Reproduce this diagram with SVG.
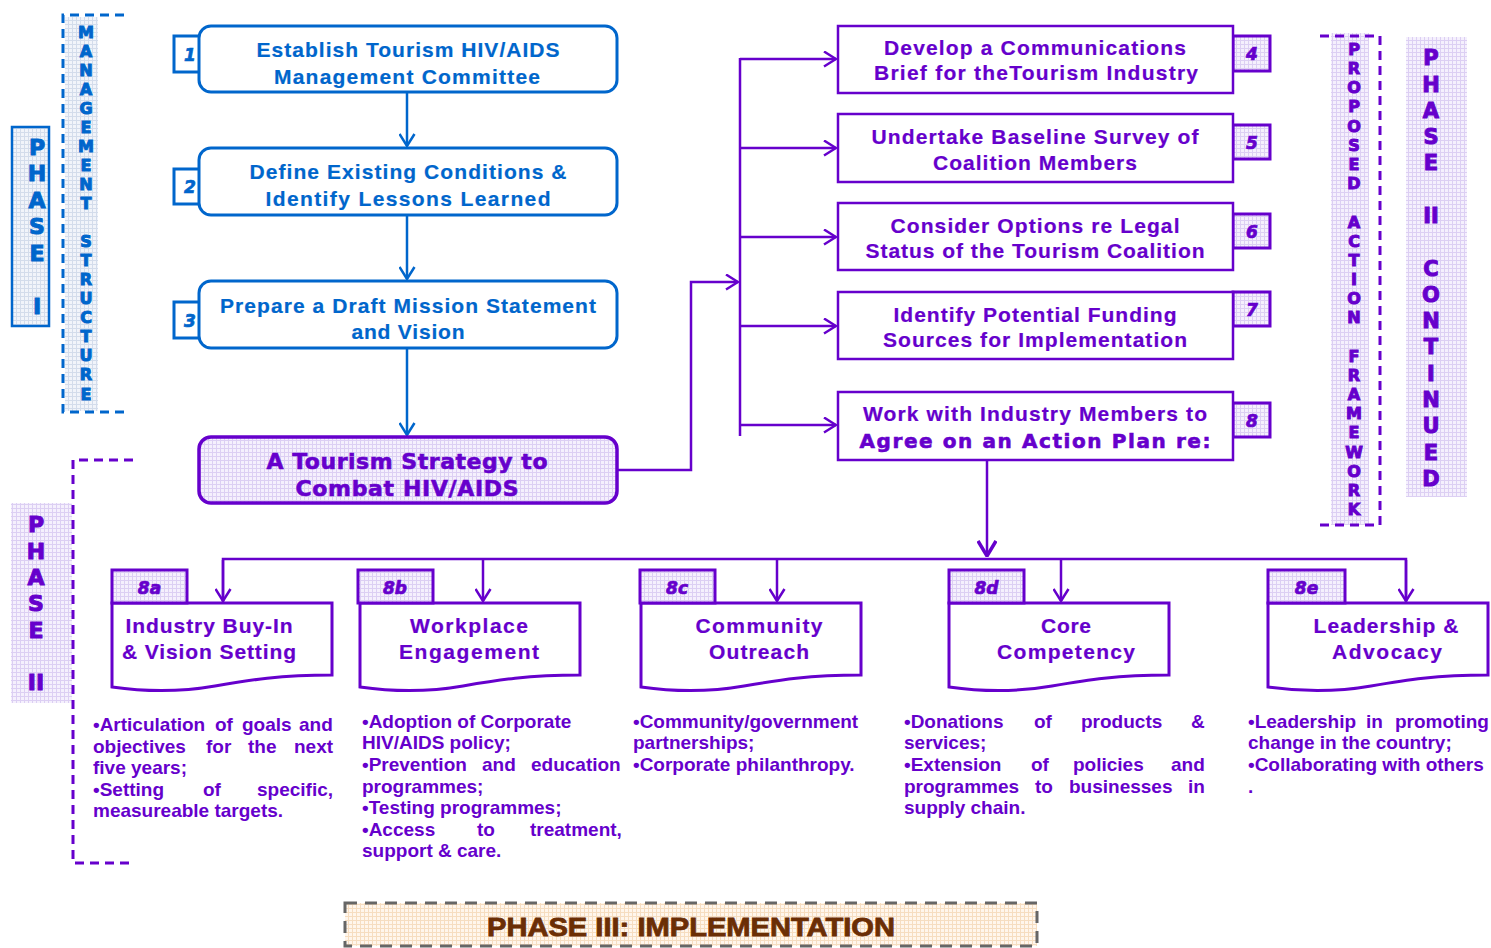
<svg xmlns="http://www.w3.org/2000/svg" xmlns:xlink="http://www.w3.org/1999/xlink" width="1491" height="948" viewBox="0 0 1491 948">
<defs>
<pattern id="pp" width="4" height="4" patternUnits="userSpaceOnUse"><rect width="4" height="4" fill="#F5F0FD"/><path d="M0,0.5H4M0.5,0V4" stroke="#DCCFF3" stroke-width="1"/></pattern>
<pattern id="pbk" width="4" height="4" patternUnits="userSpaceOnUse"><rect width="4" height="4" fill="#F1F4FA"/><path d="M0,0.5H4M0.5,0V4" stroke="#D3DCEB" stroke-width="1"/></pattern>
<pattern id="po" width="4" height="4" patternUnits="userSpaceOnUse"><rect width="4" height="4" fill="#FFF6EC"/><path d="M0,0.5H4M0.5,0V4" stroke="#F6DDC0" stroke-width="1"/></pattern>
<path id="doc" d="M0,0 H220 V72 C168,72 138,77 103,83 C63,90 28,88 0,84 Z"/>
<marker id="ab" viewBox="0 0 14 17" refX="13" refY="8.5" markerWidth="14" markerHeight="17" markerUnits="userSpaceOnUse" orient="auto"><path d="M1,1 L13,8.5 L1,16" fill="none" stroke="#0066CC" stroke-width="2.5"/></marker>
<marker id="ap" viewBox="0 0 14 17" refX="13" refY="8.5" markerWidth="14" markerHeight="17" markerUnits="userSpaceOnUse" orient="auto"><path d="M1,1 L13,8.5 L1,16" fill="none" stroke="#6600CC" stroke-width="2.5"/></marker>
<marker id="apb" viewBox="0 0 17 20" refX="16" refY="10" markerWidth="17" markerHeight="20" markerUnits="userSpaceOnUse" orient="auto"><path d="M1,1 L16,10 L1,19" fill="none" stroke="#6600CC" stroke-width="3.5"/></marker>
</defs>
<style>
.bb{fill:#fff;stroke:#0066CC;stroke-width:3}
.pb{fill:#fff;stroke:#6600CC;stroke-width:2.5}
.dc{fill:#fff;stroke:#6600CC;stroke-width:3}
.tg{fill:url(#pp);stroke:#6600CC;stroke-width:3}
.tgb{fill:#fff;stroke:#0066CC;stroke-width:3}
.t{font-family:"Liberation Sans",Arial,sans-serif;font-weight:bold;font-size:21px;text-anchor:middle}
.b{fill:#0066CC;stroke:#0066CC}
.p{fill:#6600CC;stroke:#6600CC}
.t.b,.t.p{stroke-width:0.2}
.hv{font-family:"DejaVu Sans","Liberation Sans",sans-serif;font-weight:bold;text-anchor:middle;stroke-width:0.6}
.num{font-family:"DejaVu Sans","Liberation Sans",sans-serif;font-weight:bold;font-style:italic;font-size:17px;text-anchor:middle;stroke-width:0.7}
.bl{font-family:"Liberation Sans",Arial,sans-serif;font-weight:bold;font-size:19px;fill:#6600CC}
.ve{font-family:"DejaVu Sans","Liberation Sans",sans-serif;font-weight:bold;text-anchor:middle;stroke-width:1}
.cb{fill:none;stroke:#0066CC;stroke-width:2.5}
.cp{fill:none;stroke:#6600CC;stroke-width:2.5}
</style>
<rect width="1491" height="948" fill="#fff"/>

<g id="phase1">
<rect x="12" y="127" width="37" height="199" fill="url(#pbk)" stroke="#0066CC" stroke-width="2.5"/>
<text class="ve b" font-size="22"><tspan x="37" y="155">P</tspan><tspan x="37" y="181">H</tspan><tspan x="37" y="208">A</tspan><tspan x="37" y="234">S</tspan><tspan x="37" y="261">E</tspan><tspan x="37" y="314">I</tspan></text>
</g>

<g id="mgmt">
<rect x="65" y="17" width="33" height="394" fill="url(#pbk)"/>
<path d="M124,15 H63 V412 H124" fill="none" stroke="#0066CC" stroke-width="3" stroke-dasharray="9 6"/>
<text class="ve b" font-size="16"><tspan x="86" y="38">M</tspan><tspan x="86" y="57">A</tspan><tspan x="86" y="76">N</tspan><tspan x="86" y="95">A</tspan><tspan x="86" y="114">G</tspan><tspan x="86" y="133">E</tspan><tspan x="86" y="152">M</tspan><tspan x="86" y="171">E</tspan><tspan x="86" y="190">N</tspan><tspan x="86" y="209">T</tspan><tspan x="86" y="247">S</tspan><tspan x="86" y="266">T</tspan><tspan x="86" y="285">R</tspan><tspan x="86" y="304">U</tspan><tspan x="86" y="323">C</tspan><tspan x="86" y="342">T</tspan><tspan x="86" y="361">U</tspan><tspan x="86" y="380">R</tspan><tspan x="86" y="400">E</tspan></text>
</g>

<g id="phase2">
<rect x="11" y="503" width="61" height="200" fill="url(#pp)"/>
<path d="M133,460 H73 V863 H133" fill="none" stroke="#6600CC" stroke-width="3" stroke-dasharray="9 6"/>
<text class="ve p" font-size="22"><tspan x="36" y="532">P</tspan><tspan x="36" y="559">H</tspan><tspan x="36" y="585">A</tspan><tspan x="36" y="611">S</tspan><tspan x="36" y="638">E</tspan><tspan x="36" y="690">II</tspan></text>
</g>

<g id="framework">
<rect x="1331" y="33" width="38" height="492" fill="url(#pp)"/>
<path d="M1320,36 H1380 V525 H1320" fill="none" stroke="#6600CC" stroke-width="3" stroke-dasharray="9 6"/>
<text class="ve p" font-size="16"><tspan x="1354" y="55">P</tspan><tspan x="1354" y="74">R</tspan><tspan x="1354" y="93">O</tspan><tspan x="1354" y="112">P</tspan><tspan x="1354" y="132">O</tspan><tspan x="1354" y="151">S</tspan><tspan x="1354" y="170">E</tspan><tspan x="1354" y="189">D</tspan><tspan x="1354" y="228">A</tspan><tspan x="1354" y="247">C</tspan><tspan x="1354" y="266">T</tspan><tspan x="1354" y="285">I</tspan><tspan x="1354" y="304">O</tspan><tspan x="1354" y="323">N</tspan><tspan x="1354" y="362">F</tspan><tspan x="1354" y="381">R</tspan><tspan x="1354" y="400">A</tspan><tspan x="1354" y="419">M</tspan><tspan x="1354" y="438">E</tspan><tspan x="1354" y="458">W</tspan><tspan x="1354" y="477">O</tspan><tspan x="1354" y="496">R</tspan><tspan x="1354" y="515">K</tspan></text>
</g>

<g id="phase2cont">
<rect x="1406" y="37" width="61" height="460" fill="url(#pp)"/>
<text class="ve p" font-size="21"><tspan x="1431" y="65">P</tspan><tspan x="1431" y="92">H</tspan><tspan x="1431" y="118">A</tspan><tspan x="1431" y="144">S</tspan><tspan x="1431" y="170">E</tspan><tspan x="1431" y="223">II</tspan><tspan x="1431" y="276">C</tspan><tspan x="1431" y="302">O</tspan><tspan x="1431" y="328">N</tspan><tspan x="1431" y="354">T</tspan><tspan x="1431" y="381">I</tspan><tspan x="1431" y="407">N</tspan><tspan x="1431" y="433">U</tspan><tspan x="1431" y="460">E</tspan><tspan x="1431" y="486">D</tspan></text>
</g>

<g id="connectors">
<path class="cb" d="M407,93 V146" marker-end="url(#ab)"/>
<path class="cb" d="M407,216 V279" marker-end="url(#ab)"/>
<path class="cb" d="M407,349 V435" marker-end="url(#ab)"/>
<path class="cp" d="M617,470 H691 V282 H738" stroke-width="3.5" marker-end="url(#ap)"/>
<path class="cp" d="M740,58 V436"/>
<path class="cp" d="M740,59 H836" marker-end="url(#ap)"/>
<path class="cp" d="M740,148 H836" marker-end="url(#ap)"/>
<path class="cp" d="M740,237 H836" marker-end="url(#ap)"/>
<path class="cp" d="M740,326 H836" marker-end="url(#ap)"/>
<path class="cp" d="M740,425 H836" marker-end="url(#ap)"/>
<path class="cp" d="M987,461 V556" stroke-width="4" marker-end="url(#apb)"/>
<path class="cp" d="M223,603 V559 H1406 V603" stroke-width="3"/>
<path class="cp" d="M223,560 V601" marker-end="url(#ap)"/>
<path class="cp" d="M483,560 V601" marker-end="url(#ap)"/>
<path class="cp" d="M777,560 V601" marker-end="url(#ap)"/>
<path class="cp" d="M1061,560 V601" marker-end="url(#ap)"/>
<path class="cp" d="M1406,560 V601" marker-end="url(#ap)"/>
</g>

<g id="n1">
<rect class="tgb" x="174" y="36" width="26" height="36"/>
<text class="num b" x="190" y="61">1</text>
<rect class="bb" x="199" y="26" width="418" height="66" rx="12"/>
<text class="t b" x="408" y="57" textLength="303" lengthAdjust="spacing">Establish Tourism HIV/AIDS</text>
<text class="t b" x="407" y="84" textLength="266" lengthAdjust="spacing">Management Committee</text>
</g>
<g id="n2">
<rect class="tgb" x="174" y="169" width="26" height="35"/>
<text class="num b" x="190" y="193">2</text>
<rect class="bb" x="199" y="148" width="418" height="67" rx="12"/>
<text class="t b" x="408" y="179" textLength="317" lengthAdjust="spacing">Define Existing Conditions  &amp;</text>
<text class="t b" x="408" y="206" textLength="285" lengthAdjust="spacing">Identify  Lessons Learned</text>
</g>
<g id="n3">
<rect class="tgb" x="174" y="302" width="26" height="36"/>
<text class="num b" x="190" y="327">3</text>
<rect class="bb" x="199" y="281" width="418" height="67" rx="12"/>
<text class="t b" x="408" y="313" textLength="376" lengthAdjust="spacing">Prepare a Draft Mission Statement</text>
<text class="t b" x="408" y="339" textLength="113" lengthAdjust="spacing">and Vision</text>
</g>
<g id="strategy">
<rect x="199" y="437" width="418" height="66" rx="12" fill="url(#pp)" stroke="#6600CC" stroke-width="3.5"/>
<text class="hv p" font-size="22" x="407" y="469" textLength="281" lengthAdjust="spacing">A Tourism Strategy to</text>
<text class="hv p" font-size="22" x="407" y="496" textLength="223" lengthAdjust="spacing">Combat HIV/AIDS</text>
</g>

<g id="n4">
<rect class="tg" x="1233" y="36" width="37" height="35"/>
<text class="num p" x="1252" y="60">4</text>
<rect class="pb" x="838" y="26" width="395" height="67"/>
<text class="t p" x="1035" y="55" textLength="302" lengthAdjust="spacing">Develop a Communications</text>
<text class="t p" x="1036" y="80" textLength="324" lengthAdjust="spacing">Brief for  theTourism Industry</text>
</g>
<g id="n5">
<rect class="tg" x="1233" y="125" width="37" height="34"/>
<text class="num p" x="1252" y="149">5</text>
<rect class="pb" x="838" y="114" width="395" height="68"/>
<text class="t p" x="1035" y="144" textLength="327" lengthAdjust="spacing">Undertake Baseline Survey of</text>
<text class="t p" x="1035" y="170" textLength="204" lengthAdjust="spacing">Coalition Members</text>
</g>
<g id="n6">
<rect class="tg" x="1233" y="214" width="37" height="34"/>
<text class="num p" x="1252" y="238">6</text>
<rect class="pb" x="838" y="203" width="395" height="67"/>
<text class="t p" x="1035" y="233" textLength="289" lengthAdjust="spacing">Consider Options re Legal</text>
<text class="t p" x="1035" y="258" textLength="339" lengthAdjust="spacing">Status of the Tourism Coalition</text>
</g>
<g id="n7">
<rect class="tg" x="1233" y="292" width="37" height="34"/>
<text class="num p" x="1252" y="316">7</text>
<rect class="pb" x="838" y="292" width="395" height="67"/>
<text class="t p" x="1035" y="322" textLength="283" lengthAdjust="spacing">Identify Potential Funding</text>
<text class="t p" x="1035" y="347" textLength="304" lengthAdjust="spacing">Sources for Implementation</text>
</g>
<g id="n8">
<rect class="tg" x="1233" y="403" width="37" height="34"/>
<text class="num p" x="1252" y="427">8</text>
<rect class="pb" x="838" y="392" width="395" height="68"/>
<text class="t p" x="1035" y="421" textLength="344" lengthAdjust="spacing">Work with  Industry Members to</text>
<text class="hv p" font-size="20" x="1035" y="448" textLength="351" lengthAdjust="spacing">Agree on an Action Plan re:</text>
</g>

<g id="n8a">
<use href="#doc" xlink:href="#doc" x="112" y="603" class="dc"/>
<rect class="tg" x="112" y="570" width="75" height="33"/>
<text class="num p" x="149.5" y="594">8a</text>
<text class="t p" x="209" y="633" textLength="167" lengthAdjust="spacing">Industry Buy-In</text>
<text class="t p" x="209" y="659" textLength="174" lengthAdjust="spacing">&amp; Vision Setting</text>
<text class="bl" y="731"><tspan x="93">•Articulation</tspan><tspan x="215">of</tspan><tspan x="242">goals</tspan><tspan x="299">and</tspan></text>
<text class="bl" y="753"><tspan x="93">objectives</tspan><tspan x="206">for</tspan><tspan x="248">the</tspan><tspan x="294">next</tspan></text>
<text class="bl" x="93" y="774">five years;</text>
<text class="bl" y="796"><tspan x="93">•Setting</tspan><tspan x="203">of</tspan><tspan x="257">specific,</tspan></text>
<text class="bl" x="93" y="817">measureable targets.</text>
</g>
<g id="n8b">
<use href="#doc" xlink:href="#doc" x="360" y="603" class="dc"/>
<rect class="tg" x="358" y="570" width="75" height="33"/>
<text class="num p" x="395" y="594">8b</text>
<text class="t p" x="469" y="633" textLength="118" lengthAdjust="spacing">Workplace</text>
<text class="t p" x="469" y="659" textLength="140" lengthAdjust="spacing">Engagement</text>
<text class="bl" x="362" y="728">•Adoption of  Corporate</text>
<text class="bl" x="362" y="749">HIV/AIDS policy;</text>
<text class="bl" y="771"><tspan x="362">•Prevention</tspan><tspan x="482">and</tspan><tspan x="531">education</tspan></text>
<text class="bl" x="362" y="793">programmes;</text>
<text class="bl" x="362" y="814">•Testing programmes;</text>
<text class="bl" y="836"><tspan x="362">•Access</tspan><tspan x="477">to</tspan><tspan x="530">treatment,</tspan></text>
<text class="bl" x="362" y="857">support &amp; care.</text>
</g>
<g id="n8c">
<use href="#doc" xlink:href="#doc" x="641" y="603" class="dc"/>
<rect class="tg" x="640" y="570" width="75" height="33"/>
<text class="num p" x="677" y="594">8c</text>
<text class="t p" x="759" y="633" textLength="127" lengthAdjust="spacing">Community</text>
<text class="t p" x="759" y="659" textLength="100" lengthAdjust="spacing">Outreach</text>
<text class="bl" x="633" y="728">•Community/government</text>
<text class="bl" x="633" y="749">partnerships;</text>
<text class="bl" x="633" y="771">•Corporate philanthropy.</text>
</g>
<g id="n8d">
<use href="#doc" xlink:href="#doc" x="949" y="603" class="dc"/>
<rect class="tg" x="949" y="570" width="75" height="33"/>
<text class="num p" x="986.5" y="594">8d</text>
<text class="t p" x="1066" y="633" textLength="50" lengthAdjust="spacing">Core</text>
<text class="t p" x="1066" y="659" textLength="138" lengthAdjust="spacing">Competency</text>
<text class="bl" y="728"><tspan x="904">•Donations</tspan><tspan x="1034">of</tspan><tspan x="1081">products</tspan><tspan x="1191">&amp;</tspan></text>
<text class="bl" x="904" y="749">services;</text>
<text class="bl" y="771"><tspan x="904">•Extension</tspan><tspan x="1031">of</tspan><tspan x="1073">policies</tspan><tspan x="1171">and</tspan></text>
<text class="bl" y="793"><tspan x="904">programmes</tspan><tspan x="1035">to</tspan><tspan x="1069">businesses</tspan><tspan x="1188">in</tspan></text>
<text class="bl" x="904" y="814">supply chain.</text>
</g>
<g id="n8e">
<use href="#doc" xlink:href="#doc" x="1268" y="603" class="dc"/>
<rect class="tg" x="1268" y="570" width="77" height="33"/>
<text class="num p" x="1306.5" y="594">8e</text>
<text class="t p" x="1386" y="633" textLength="145" lengthAdjust="spacing">Leadership &amp;</text>
<text class="t p" x="1387" y="659" textLength="110" lengthAdjust="spacing">Advocacy</text>
<text class="bl" y="728"><tspan x="1248">•Leadership</tspan><tspan x="1366">in</tspan><tspan x="1395">promoting</tspan></text>
<text class="bl" x="1248" y="749">change in the country;</text>
<text class="bl" x="1248" y="771">•Collaborating with others</text>
<text class="bl" x="1248" y="793">.</text>
</g>

<g id="phase3">
<rect x="345" y="903" width="692" height="43" fill="url(#po)" stroke="#666" stroke-width="3" stroke-dasharray="12 8"/>
<text x="691" y="936" font-family="'Liberation Sans',Arial,sans-serif" font-weight="bold" font-size="26" text-anchor="middle" fill="#6B2E05" stroke="#6B2E05" stroke-width="0.8" textLength="408" lengthAdjust="spacingAndGlyphs">PHASE III: IMPLEMENTATION</text>
</g>
</svg>
